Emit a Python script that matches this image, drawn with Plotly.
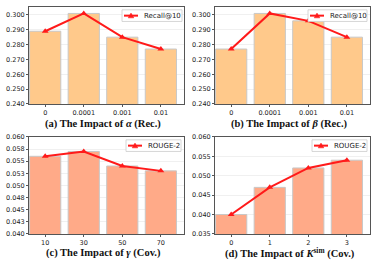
import plotly.graph_objects as go

cats_ab = ["0", "0.0001", "0.001", "0.01"]
cats_c = ["10", "30", "50", "70"]
cats_d = ["0", "1", "2", "3"]
recall_alpha = [0.289, 0.301, 0.285, 0.277]
recall_beta = [0.277, 0.301, 0.296, 0.285]
rouge_gamma = [0.056, 0.057, 0.054, 0.053]
rouge_k = [0.040, 0.047, 0.052, 0.054]

titles = ["<b>(a) The Impact of <i>α</i> (Rec.)</b>",
          "<b>(b) The Impact of <i>β</i> (Rec.)</b>",
          "<b>(c) The Impact of <i>γ</i> (Cov.)</b>",
          "<b>(d) The Impact of <i>K</i><sup>sim</sup> (Cov.)</b>"]

W, H = 373, 268
def px_x(a, b):
    return [a / W, b / W]
def px_y(top, bot):
    return [1 - bot / H, 1 - top / H]
def fx(v):
    return v / W
def fy(v):
    return 1 - v / H

RED = "#ff1a1a"
panels = [
    dict(cats=cats_ab, vals=recall_alpha, name="Recall@10", bar="#FFC98B",
         xd=px_x(29, 184), yd=px_y(3, 103), yr=[0.24, 0.3054],
         tv=[0.24, 0.25, 0.26, 0.27, 0.28, 0.29, 0.30], ty=124, tx=103,
         leg=(122, 6, 182, 18)),
    dict(cats=cats_ab, vals=recall_beta, name="Recall@10", bar="#FFC98B",
         xd=px_x(215, 370), yd=px_y(3, 103), yr=[0.24, 0.3054],
         tv=[0.24, 0.25, 0.26, 0.27, 0.28, 0.29, 0.30], ty=124, tx=289,
         leg=(308, 6, 367, 18)),
    dict(cats=cats_c, vals=rouge_gamma, name="ROUGE-2", bar="#FFAA88",
         xd=px_x(29, 184), yd=px_y(137, 237), yr=[0.04, 0.06],
         tv=[0.04, 0.0425, 0.045, 0.0475, 0.05, 0.0525, 0.055, 0.0575, 0.06],
         tt=["0.040", "0.043", "0.045", "0.048", "0.050", "0.053", "0.055", "0.058", "0.060"],
         ty=257, tx=103, leg=(126, 140, 181, 152)),
    dict(cats=cats_d, vals=rouge_k, name="ROUGE-2", bar="#FFAA88",
         xd=px_x(215, 370), yd=px_y(137, 237), yr=[0.035, 0.06],
         tv=[0.035, 0.04, 0.045, 0.05, 0.055, 0.06], ty=257, tx=290,
         leg=(312, 140, 367, 152)),
]

fig = go.Figure()
layout = dict(width=W, height=H, margin=dict(l=0, r=0, t=0, b=0),
              plot_bgcolor="white", paper_bgcolor="white",
              showlegend=False, annotations=[], shapes=[])
tickfont = dict(family="DejaVu Sans", size=6.5, color="#222")
for i, p in enumerate(panels):
    n = "" if i == 0 else str(i + 1)
    xa, ya = "x" + n, "y" + n
    xs = list(range(len(p["cats"])))
    fig.add_trace(go.Bar(x=xs, y=p["vals"], width=0.81, marker=dict(color=p["bar"],
                         line=dict(color="#c8c8c8", width=1)),
                         xaxis=xa, yaxis=ya, showlegend=False))
    fig.add_trace(go.Scatter(x=xs, y=p["vals"], mode="lines+markers", name=p["name"],
                             line=dict(color=RED, width=2),
                             marker=dict(symbol="triangle-up", size=6, color=RED),
                             xaxis=xa, yaxis=ya, showlegend=False))
    layout["xaxis" + n] = dict(domain=p["xd"], anchor=ya, range=[-0.42, 3.6],
                               tickvals=xs, ticktext=p["cats"], tickfont=tickfont,
                               showline=True, linecolor="#555", linewidth=1, mirror=True,
                               showgrid=False, zeroline=False, ticks="outside", ticklen=2,
                               tickcolor="#555")
    ydict = dict(domain=p["yd"], anchor=xa, range=p["yr"], tickvals=p["tv"],
                 tickfont=tickfont, showline=True, linecolor="#555", linewidth=1,
                 mirror=True, showgrid=True, gridcolor="#ececec", gridwidth=0.8,
                 zeroline=False, ticks="outside", ticklen=2, tickcolor="#555")
    if "tt" in p:
        ydict["ticktext"] = p["tt"]
    else:
        ydict["tickformat"] = ".3f"
    layout["yaxis" + n] = ydict
    # manual legend
    x0, y0, x1, y1 = p["leg"]
    layout["shapes"].append(dict(type="rect", xref="paper", yref="paper",
                                 x0=fx(x0), x1=fx(x1), y0=fy(y1), y1=fy(y0),
                                 fillcolor="white", line=dict(color="#cccccc", width=0.8),
                                 layer="above"))
    ym = (y0 + y1) / 2
    layout["shapes"].append(dict(type="line", xref="paper", yref="paper",
                                 x0=fx(x0 + 2), x1=fx(x0 + 16), y0=fy(ym), y1=fy(ym),
                                 line=dict(color=RED, width=2), layer="above"))
    cx = x0 + 9
    tri = "M %f %f L %f %f L %f %f Z" % (fx(cx - 2.8), fy(ym + 2.3), fx(cx + 2.8), fy(ym + 2.3),
                                          fx(cx), fy(ym - 2.7))
    layout["shapes"].append(dict(type="path", xref="paper", yref="paper", path=tri,
                                 fillcolor=RED, line=dict(color=RED, width=0.5), layer="above"))
    layout["annotations"].append(dict(text=p["name"], x=fx(x0 + 20), y=fy(ym),
                                      xref="paper", yref="paper", showarrow=False,
                                      xanchor="left", yanchor="middle",
                                      font=dict(family="DejaVu Sans", size=7, color="#222")))
    layout["annotations"].append(dict(text=titles[i], x=fx(p["tx"]),
                                      y=fy(p["ty"]), xref="paper", yref="paper",
                                      showarrow=False, xanchor="center", yanchor="middle",
                                      font=dict(family="Liberation Serif", size=10.5, color="#111")))
fig.update_layout(**layout)
fig.write_html("out.html", config={"displayModeBar": False, "staticPlot": True},
               post_script="document.body.style.margin='0';document.body.style.overflow='hidden';")
